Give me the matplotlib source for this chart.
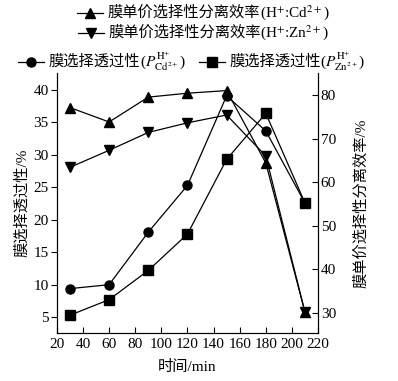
import matplotlib
matplotlib.use('Agg')
import matplotlib.pyplot as plt
from matplotlib.lines import Line2D

plt.rcParams['font.family'] = ['Liberation Serif', 'Noto Sans CJK SC']
plt.rcParams['mathtext.fontset'] = 'stix'
plt.rcParams['font.size'] = 11

# time points (min)
t = [30, 60, 90, 120, 150, 180, 210]
# membrane permselectivity, left axis (%)
p_cd = [9.4, 10.0, 18.1, 25.3, 39.1, 33.7, 22.6]
p_zn = [5.3, 7.7, 12.2, 17.8, 29.3, 36.4, 22.6]
# monovalent selective separation efficiency, right axis (%)
eff_cd = [77.1, 73.8, 79.5, 80.4, 81.0, 64.4, 30.2]
eff_zn = [63.4, 67.3, 71.4, 73.6, 75.4, 66.0, 30.2]

# legend labels: chinese part + math part (mathtext can't do CJK)
legend_items = [
    ('^', '膜单价选择性分离效率', r'(H$^{+}$:Cd$^{2+}$)'),
    ('v', '膜单价选择性分离效率', r'(H$^{+}$:Zn$^{2+}$)'),
    ('o', '膜选择透过性', r'($P_{\mathrm{Cd}^{2+}}^{\mathrm{H}^{+}}$)'),
    ('s', '膜选择透过性', r'($P_{\mathrm{Zn}^{2+}}^{\mathrm{H}^{+}}$)'),
]

W, H = 398, 381
fig = plt.figure(figsize=(W / 100, H / 100), dpi=100)
ax = fig.add_axes([0.143, 0.125, 0.656, 0.683])
ax2 = ax.twinx()

kw = dict(color='black', lw=0.9, ms=6.5)
ax.plot(t, p_cd, marker='o', **kw)
ax.plot(t, p_zn, marker='s', **kw)
ax2.plot(t, eff_cd, marker='^', **kw)
ax2.plot(t, eff_zn, marker='v', **kw)

ax.set_xlim(20, 220)
ax.set_ylim(2.5, 42.6)
ax2.set_ylim(25.3, 85)
ax.set_xticks(range(20, 221, 20))
ax.set_yticks(range(5, 41, 5))
ax2.set_yticks(range(30, 81, 10))

for a in (ax, ax2):
    a.spines['top'].set_visible(False)
ax.tick_params(axis='x', direction='in', length=4, pad=3)
ax.tick_params(axis='y', direction='out', length=4, pad=2)
ax2.tick_params(axis='y', direction='in', length=4, pad=2)

ax.set_xlabel('时间/min', labelpad=7)
ax.set_ylabel('膜选择透过性/%', labelpad=3)
ax2.set_ylabel('膜单价选择性分离效率/%', labelpad=13)

# hand-made legend, positions in pixels from top-left
rows = [(77, 13), (78, 33), (18, 62), (199, 62)]
for (mk, cn, mt), (x0, y0) in zip(legend_items, rows):
    fy = 1 - y0 / H
    fig.add_artist(Line2D([x0 / W, (x0 + 13) / W, (x0 + 26) / W], [fy] * 3,
                          transform=fig.transFigure, color='black', lw=0.9,
                          marker=mk, ms=6.5, markevery=[1]))
    txt = fig.text((x0 + 30) / W, fy, cn, va='center', ha='left')
    ax.annotate(mt, xy=(1, 0.5), xycoords=txt, va='center', ha='left',
                annotation_clip=False)

fig.savefig('out.png', dpi=100)
